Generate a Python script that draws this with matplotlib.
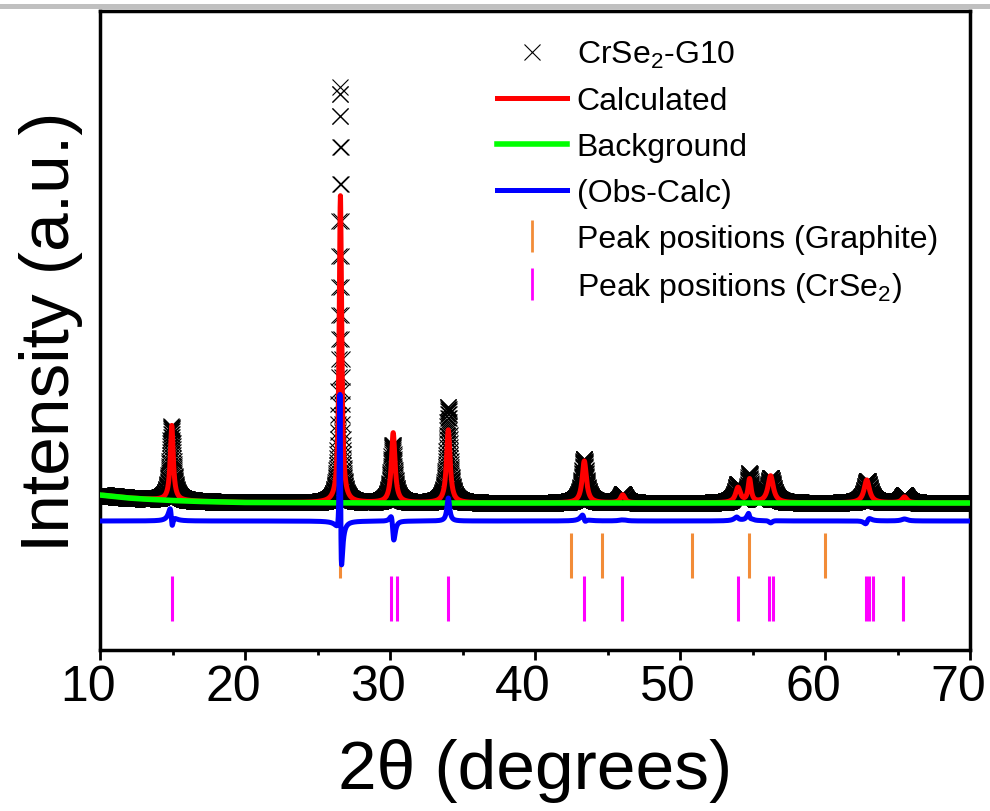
import numpy as np
import matplotlib.pyplot as plt
from matplotlib.lines import Line2D
from matplotlib.transforms import ScaledTranslation

plt.rcParams['font.family'] = ['Liberation Sans', 'DejaVu Sans']
plt.rcParams['mathtext.fontset'] = 'custom'
plt.rcParams['mathtext.rm'] = 'Liberation Sans'
plt.rcParams['mathtext.it'] = 'Liberation Sans:italic'

# measurement grid (2theta, degrees)
two_theta = np.arange(10.0, 70.0001, 0.01)

# background knots
bg_x = [10, 11, 12, 13, 15, 17, 20, 30, 40, 50, 60, 70]
bg_y = [155, 153.5, 152, 151, 149.5, 148.5, 147.5, 147, 147, 147, 147, 147]

# calculated peaks (position, height above background, fwhm)
calc_pos = [14.95, 26.58, 30.22, 34.02, 43.40, 46.05, 54.00, 54.80, 56.25, 62.88, 65.48]
calc_height = [75, 307, 70, 73, 42, 8, 15, 23, 27, 23, 6]
calc_fwhm = [0.25, 0.20, 0.30, 0.30, 0.35, 0.35, 0.40, 0.25, 0.45, 0.45, 0.40]

# observed peaks
obs_pos = [14.93, 26.56, 30.18, 34.02, 43.38, 46.05, 53.98, 54.78, 56.25, 62.92, 65.48]
obs_height = [74, 416, 58, 96, 44, 9, 18, 28, 25, 22, 8]
obs_fwhm = [0.30, 0.145, 0.32, 0.28, 0.38, 0.38, 0.42, 0.28, 0.48, 0.48, 0.42]

# reflection markers
graphite_pos = [26.55, 42.45, 44.60, 50.80, 54.78, 59.98]
crse2_pos = [14.97, 30.10, 30.45, 34.00, 43.37, 45.97, 54.01, 56.12, 56.42,
             62.81, 63.05, 63.28, 65.41]

diff_offset = 129


def profile(pos, height, fwhm):
    y = np.interp(two_theta, bg_x, bg_y)
    for p, h, w in zip(pos, height, fwhm):
        y = y + h / (1 + ((two_theta - p) / (w / 2)) ** 2)
    return y


obs = profile(obs_pos, obs_height, obs_fwhm)
calc = profile(calc_pos, calc_height, calc_fwhm)
diff = obs - calc + diff_offset

fig = plt.figure(figsize=(9.9, 8.12), dpi=100)
ax = fig.add_axes([100 / 990, 1 - 651 / 812, 870 / 990, 639 / 812])

ax.plot(two_theta, obs, linestyle='none', marker='x', ms=12, mew=0.8,
        color='black', label=r'CrSe$_2$-G10', zorder=1)
ax.plot(two_theta, calc, color='red', lw=3.6, label='Calculated', zorder=2)
ax.plot(bg_x, bg_y, color='#00ff00', lw=4, label='Background', zorder=3)
ax.plot(two_theta, diff, color='blue', lw=3.6, label='(Obs-Calc)', zorder=4)
ax.vlines(graphite_pos, 72, 117, color='#f28c38', lw=2.2, zorder=3)
ax.vlines(crse2_pos, 29, 74, color='magenta', lw=2.2, zorder=3)

ax.set_xlim(10, 70)
ax.set_ylim(0, 639)
ax.set_yticks([])
ax.set_xticks(range(10, 71, 10))
ax.set_xticks(range(15, 70, 10), minor=True)
ax.tick_params(axis='x', which='major', direction='out', length=7, width=2,
               labelsize=36, pad=3)
ax.tick_params(axis='x', which='minor', direction='out', length=3.5, width=2)
shift = ScaledTranslation(-12 / 100, 0, fig.dpi_scale_trans)
for lab in ax.get_xticklabels():
    lab.set_transform(lab.get_transform() + shift)
for s in ax.spines.values():
    s.set_linewidth(2.5)

ax.set_xlabel('2θ (degrees)', fontsize=50)
ax.xaxis.set_label_coords(0.5, -0.137)
ax.set_ylabel('Intensity (a.u.)', fontsize=50)
ax.yaxis.set_label_coords(-0.020, 0.5)

handles, labels = ax.get_legend_handles_labels()
handles += [Line2D([], [], color='#f28c38', marker='|', linestyle='none', ms=23, mew=2),
            Line2D([], [], color='magenta', marker='|', linestyle='none', ms=23, mew=2)]
labels += ['Peak positions (Graphite)', r'Peak positions (CrSe$_2$)']
ax.legend(handles, labels, loc='upper left', bbox_to_anchor=(497 / 990, 1 - 40 / 812),
          bbox_transform=fig.transFigure, frameon=False, fontsize=23, borderpad=0,
          borderaxespad=0, handlelength=2.2, handletextpad=0.3, labelspacing=0.5,
          numpoints=1)

fig.add_artist(Line2D([0, 1], [1 - 6.5 / 812] * 2, transform=fig.transFigure,
                      color='#c0c0c0', lw=3.6))

plt.savefig('out.png', dpi=100)
